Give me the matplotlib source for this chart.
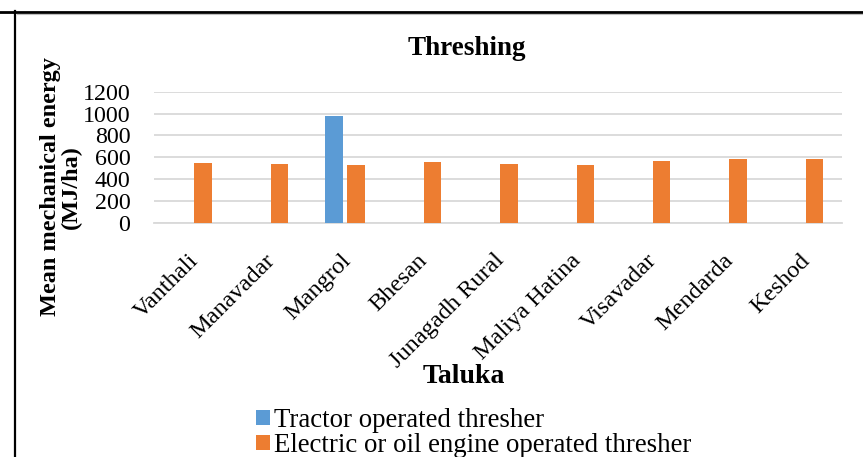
import matplotlib.pyplot as plt
import matplotlib.lines as mlines
import matplotlib.transforms as mtransforms
import numpy as np

# data
talukas = ['Vanthali', 'Manavadar', 'Mangrol', 'Bhesan', 'Junagadh Rural',
           'Maliya Hatina', 'Visavadar', 'Mendarda', 'Keshod']
tractor = [0, 0, 977, 0, 0, 0, 0, 0, 0]
electric = [547, 540, 528, 556, 535, 528, 568, 580, 586]
yticks = [0, 200, 400, 600, 800, 1000, 1200]

plt.rcParams['font.family'] = ['Liberation Serif', 'DejaVu Serif']

W, H = 863, 457
fig = plt.figure(figsize=(W / 100, H / 100), dpi=100)
ax = fig.add_axes([154 / W, 1 - 222.7 / H, 687.7 / W, 131 / H])

x = np.arange(len(talukas))
bw = 0.228
ax.bar(x - 0.144, tractor, width=bw, color='#5B9BD5',
       label='Tractor operated thresher', zorder=3)
ax.bar(x + 0.144, electric, width=bw, color='#ED7D31',
       label='Electric or oil engine operated thresher', zorder=3)

ax.set_xlim(-0.5, len(talukas) - 0.5)
ax.set_ylim(0, 1200)
ax.set_yticks(yticks)
ax.set_yticklabels([str(v) for v in yticks], fontsize=17.3)
ax.yaxis.grid(True, color='#D9D9D9', linewidth=1.3)
ax.set_axisbelow(True)
for s in ['top', 'right', 'left']:
    ax.spines[s].set_visible(False)
ax.spines['bottom'].set_color('#D9D9D9')
ax.spines['bottom'].set_linewidth(1.3)
ax.tick_params(axis='y', length=0, pad=17)

ax.set_xticks(x)
ax.set_xticklabels(talukas, fontsize=17.5, rotation=45, ha='right',
                   va='center', rotation_mode='anchor')
ax.tick_params(axis='x', length=0, pad=25)
# nudge the rotated labels a touch to the right
shift = mtransforms.ScaledTranslation(3 / 100, 0, fig.dpi_scale_trans)
for lab in ax.get_xticklabels():
    lab.set_transform(lab.get_transform() + shift)

# titles
fig.text(467 / W, 1 - 55 / H, 'Threshing', fontsize=19.5, fontweight='bold',
         ha='center', va='baseline')
fig.text(464 / W, 1 - 383 / H, 'Taluka', fontsize=20, fontweight='bold',
         ha='center', va='baseline')
fig.text(61 / W, 1 - 187 / H, 'Mean mechanical energy\n(MJ/ha)',
         fontsize=17.5, fontweight='bold', rotation=90, ha='center',
         va='center', multialignment='center', linespacing=1.0)

# legend
fig.legend(loc='upper left', bbox_to_anchor=(256 / W, 1 - 408 / H),
           frameon=False, fontsize=19.4, handlelength=0.52,
           handleheight=0.52, handletextpad=0.15, labelspacing=0.0,
           borderpad=0, borderaxespad=0)

# page frame lines
fig.add_artist(mlines.Line2D([0, 1], [1 - 12 / H, 1 - 12 / H],
                             color='black', linewidth=2))
fig.add_artist(mlines.Line2D([15 / W, 15 / W], [0, 1 - 11 / H],
                             color='black', linewidth=1.6))
fig.add_artist(mlines.Line2D([16.5 / W, 1], [1 - 14.3 / H, 1 - 14.3 / H],
                             color='#BFBFBF', linewidth=0.8))

fig.savefig('out.png', dpi=100)
